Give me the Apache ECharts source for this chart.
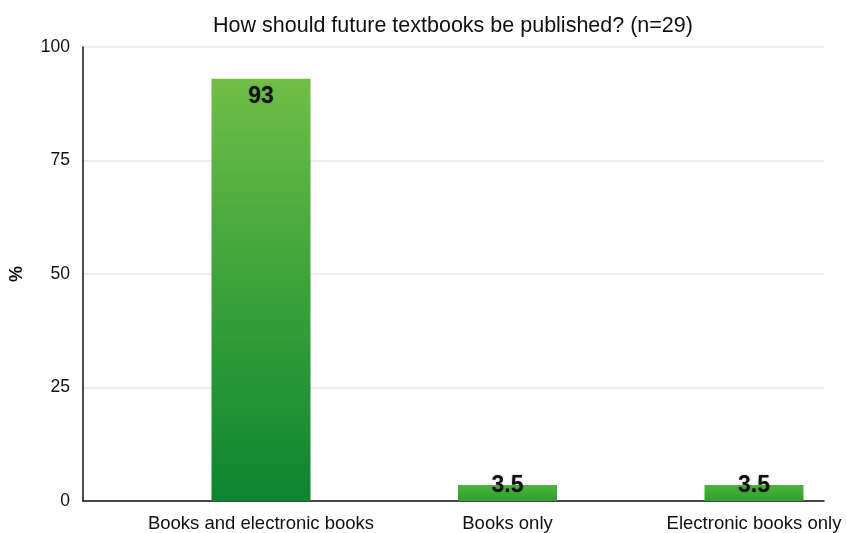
<!DOCTYPE html>
<html>
<head>
<meta charset="utf-8">
<script src="https://cdn.jsdelivr.net/npm/echarts@6/dist/echarts.min.js"></script>
<style>
  html, body { margin: 0; padding: 0; background: #ffffff; }
  #chart { width: 846px; height: 533px; }
</style>
</head>
<body>
<div id="chart"></div>
<script>
// Survey answers and their shares (%)
const categories = ['Books and electronic books', 'Books only', 'Electronic books only'];
const shares = [93, 3.5, 3.5];
const yTicks = [0, 25, 50, 75, 100];
const titleText = 'How should future textbooks be published? (n=29)';

const FONT = '"Liberation Sans", Arial, Helvetica, sans-serif';

// Tall bars fade from light to deep green; short bars keep a mid green
function barFill(v) {
  const tall = v > 20;
  return new echarts.graphic.LinearGradient(0, 0, 0, 1, tall
    ? [{ offset: 0, color: '#70be46' }, { offset: 0.5, color: '#3aa23a' }, { offset: 1, color: '#0d8430' }]
    : [{ offset: 0, color: '#4cb53a' }, { offset: 1, color: '#2f9f2e' }]);
}

const barData = shares.map(v => ({
  value: v,
  itemStyle: { color: barFill(v) },
  label: v > 20
    ? { position: 'insideTop', distance: 6 }
    : { position: 'top', distance: -12 }
}));

const chart = echarts.init(document.getElementById('chart'), null, { renderer: 'canvas' });
chart.setOption({
  animation: false,
  backgroundColor: '#ffffff',
  title: {
    text: titleText,
    left: 448,
    textAlign: 'center',
    top: 10,
    textStyle: { fontFamily: FONT, fontSize: 21.5, fontWeight: 'normal', color: '#111' }
  },
  grid: [
    // frame: value axis, gridlines and baseline
    { left: 83, right: 22, top: 47, bottom: 32, outerBoundsMode: 'none', containLabel: false },
    // bars and category labels, one category per tick
    { left: 261, right: 92, top: 47, bottom: 32, outerBoundsMode: 'none', containLabel: false }
  ],
  xAxis: [
    {
      gridIndex: 0, type: 'category', data: categories,
      axisLine: { lineStyle: { color: '#111', width: 1.5 } },
      axisTick: { show: false }, axisLabel: { show: false }
    },
    {
      gridIndex: 1, type: 'category', data: categories, boundaryGap: false,
      axisLine: { show: false }, axisTick: { show: false },
      axisLabel: { interval: 0, hideOverlap: false, fontFamily: FONT, fontSize: 18.5, color: '#111', margin: 13 }
    }
  ],
  yAxis: [
    {
      gridIndex: 0, type: 'value', min: yTicks[0], max: yTicks[yTicks.length - 1], interval: 25,
      name: '%', nameLocation: 'middle', nameGap: 57, nameRotate: 90,
      nameTextStyle: { fontFamily: FONT, fontSize: 18, fontWeight: 'bold', color: '#111' },
      axisLine: { show: true, lineStyle: { color: '#111', width: 1.5 } },
      axisTick: { show: false },
      axisLabel: { fontFamily: FONT, fontSize: 17.5, color: '#111', margin: 13 },
      splitLine: { lineStyle: { color: '#e8e8e8', width: 1.5 } }
    },
    {
      gridIndex: 1, type: 'value', min: yTicks[0], max: yTicks[yTicks.length - 1], interval: 25,
      show: false, splitLine: { show: false }
    }
  ],
  series: [{
    type: 'bar',
    xAxisIndex: 1, yAxisIndex: 1,
    barWidth: 99,
    clip: false,
    data: barData,
    label: {
      show: true,
      fontFamily: FONT, fontSize: 23, fontWeight: 'bold', color: '#111',
      textShadowColor: 'rgba(0,0,0,0.35)', textShadowBlur: 2
    }
  }]
});
</script>
</body>
</html>
